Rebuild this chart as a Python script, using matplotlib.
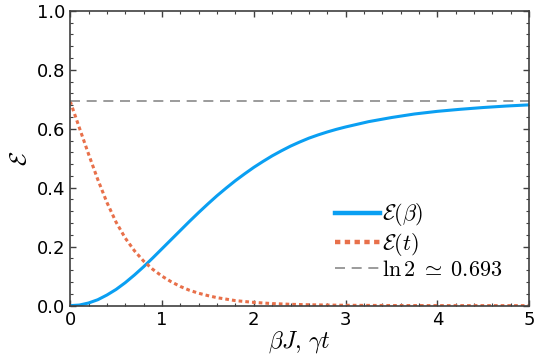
import matplotlib
matplotlib.use("Agg")
import matplotlib.pyplot as plt
from matplotlib.ticker import MultipleLocator

# values
beta_x = [0.0, 0.1, 0.2, 0.3, 0.4, 0.5, 0.6, 0.7, 0.8, 0.9, 1.0, 1.1, 1.2, 1.3,
          1.4, 1.5, 1.6, 1.7, 1.8, 1.9, 2.0, 2.1, 2.2, 2.3, 2.4, 2.5, 2.6,
          2.7, 2.8, 2.9, 3.0, 3.25, 3.5, 3.75, 4.0, 4.25, 4.5, 4.75, 5.0]
ent_beta = [0.0, 0.002, 0.009, 0.020, 0.036, 0.055, 0.078, 0.104, 0.132,
            0.162, 0.193, 0.224, 0.255, 0.286, 0.316, 0.345, 0.373, 0.399,
            0.424, 0.447, 0.469, 0.489, 0.508, 0.525, 0.541, 0.555, 0.568,
            0.579, 0.589, 0.598, 0.606, 0.624, 0.638, 0.650, 0.659, 0.666,
            0.672, 0.677, 0.681]

time_x = [0.0, 0.1, 0.2, 0.3, 0.4, 0.5, 0.6, 0.7, 0.8, 0.9, 1.0, 1.1, 1.2, 1.3,
          1.4, 1.5, 1.6, 1.7, 1.8, 1.9, 2.0, 2.2, 2.4, 2.6, 2.8, 3.0, 3.5,
          4.0, 5.0]
ent_time = [0.693, 0.603, 0.514, 0.428, 0.350, 0.283, 0.229, 0.186, 0.151,
            0.123, 0.100, 0.081, 0.065, 0.052, 0.042, 0.034, 0.027, 0.022,
            0.017, 0.014, 0.011, 0.007, 0.0045, 0.003, 0.002, 0.0012, 0.0004,
            0.0001, 0.0]

ln2 = 0.693

plt.rcParams['mathtext.fontset'] = 'cm'

fig = plt.figure(figsize=(5.4, 3.6), dpi=100)
ax = fig.add_axes([0.13, 0.151, 0.85, 0.819])

ax.plot(beta_x, ent_beta, color='#0A9FF2', lw=2.2, label=r'$\mathcal{E}(\beta)$')
ax.plot(time_x, ent_time, color='#E8704A', lw=2.2, ls=(0, (1.2, 1.0)),
        label=r'$\mathcal{E}(t)$')
ax.axhline(ln2, color='#8a8a8a', lw=1.2, ls=(0, (6, 4)),
           label=r'$\ln 2 \;\simeq\; 0.693$')

ax.set_xlim(0, 5)
ax.set_ylim(0, 1)
ax.xaxis.set_major_locator(MultipleLocator(1))
ax.xaxis.set_minor_locator(MultipleLocator(0.2))
ax.yaxis.set_major_locator(MultipleLocator(0.2))
ax.yaxis.set_minor_locator(MultipleLocator(0.04))
ax.tick_params(which='both', direction='in', top=True, right=True,
               color='0.25', labelsize=13)
ax.tick_params(which='major', length=4, width=1)
ax.tick_params(which='minor', length=2, width=0.8)
for s in ax.spines.values():
    s.set_color('0.25')
    s.set_linewidth(1.2)

ax.set_xlabel(r'$\beta J,\,\gamma t$', fontsize=17, labelpad=0)
ax.set_ylabel(r'$\mathcal{E}$', fontsize=17, labelpad=4)

leg = ax.legend(loc='lower right', bbox_to_anchor=(0.985, 0.02), frameon=False,
                fontsize=16, handlelength=2.0, handletextpad=0.1,
                labelspacing=0.1)
for h in leg.get_lines()[:2]:
    h.set_linewidth(3.2)

fig.savefig('out.png', dpi=100)
